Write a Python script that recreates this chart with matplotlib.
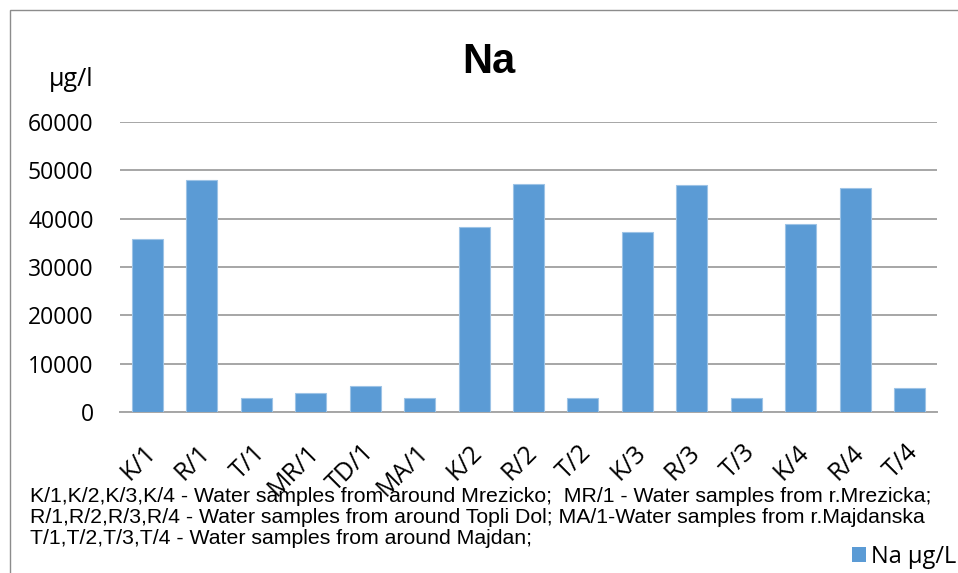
import matplotlib
matplotlib.use("Agg")
import matplotlib.pyplot as plt
import matplotlib.transforms as mtrans
from matplotlib.patches import Rectangle

categories = ["K/1", "R/1", "T/1", "MR/1", "TD/1", "MA/1", "K/2", "R/2", "T/2",
              "K/3", "R/3", "T/3", "K/4", "R/4", "T/4"]
na_values = [35700, 47900, 2800, 3900, 5400, 2900, 38300, 47200, 2800,
             37200, 47000, 2800, 38800, 46400, 4900]
y_ticks = [0, 10000, 20000, 30000, 40000, 50000, 60000]
footnote_lines = [
    "K/1,K/2,K/3,K/4 - Water samples from around Mrezicko;  MR/1 - Water samples from r.Mrezicka;",
    "R/1,R/2,R/3,R/4 - Water samples from around Topli Dol; MA/1-Water samples from r.Majdanska",
    "T/1,T/2,T/3,T/4 - Water samples from around Majdan;",
]

W, H = 958, 573
fig = plt.figure(figsize=(W / 100, H / 100), dpi=100)
fig.patch.set_facecolor("white")

# outer chart frame
fig.patches.append(Rectangle((10 / W, -0.1), 1.2, 1 - 10 / H + 0.1, transform=fig.transFigure,
                             fill=False, edgecolor="#8c8c8c", linewidth=1.0))

ax = fig.add_axes([120 / W, 1 - 412 / H, (937 - 120) / W, (412 - 122) / H])
x = list(range(len(categories)))
ax.bar(x, na_values, width=0.57, color="#5B9BD5", edgecolor="#9DC3E6", linewidth=0.8, zorder=3)
ax.set_xlim(-0.5, len(categories) - 0.5)
ax.set_ylim(0, 60000)
ax.set_yticks(y_ticks)
ax.set_yticklabels([str(v) for v in y_ticks], fontsize=16.5, family="Open Sans")
ax.yaxis.grid(True, color="#a6a6a6", linewidth=1.4, zorder=0)
ax.set_axisbelow(True)
for s in ["top", "right", "left"]:
    ax.spines[s].set_visible(False)
ax.spines["bottom"].set_color("#a6a6a6")
ax.spines["bottom"].set_linewidth(1.4)
ax.tick_params(axis="y", length=0, pad=19)
ax.tick_params(axis="x", length=0, pad=20)
ax.set_xticks(x)
ax.set_xticklabels(categories, rotation=45, ha="right", va="top", rotation_mode="anchor",
                   fontsize=18, family="Open Sans")
for lbl in ax.get_xticklabels():
    lbl.set_transform(lbl.get_transform() + mtrans.ScaledTranslation(-0.04, 0, fig.dpi_scale_trans))

fig.text(489 / W, 1 - 62 / H, "Na", fontsize=30, fontweight="bold", ha="center", va="center",
         family="Liberation Sans")
fig.text(71 / W, 1 - 80 / H, "µg/l", fontsize=18, ha="center", va="center", family="Open Sans")

for line, base in zip(footnote_lines, [502, 523, 544]):
    fig.text(30 / W, 1 - base / H, line, fontsize=15.3, ha="left", va="baseline",
             family="Liberation Sans")

fig.patches.append(Rectangle((852 / W, 1 - 562 / H), 14 / W, 15 / H, transform=fig.transFigure,
                             facecolor="#5B9BD5", edgecolor="none"))
fig.text(871 / W, 1 - 563 / H, "Na µg/L", fontsize=17, ha="left", va="baseline", family="Open Sans")

fig.savefig("out.png", dpi=100)
